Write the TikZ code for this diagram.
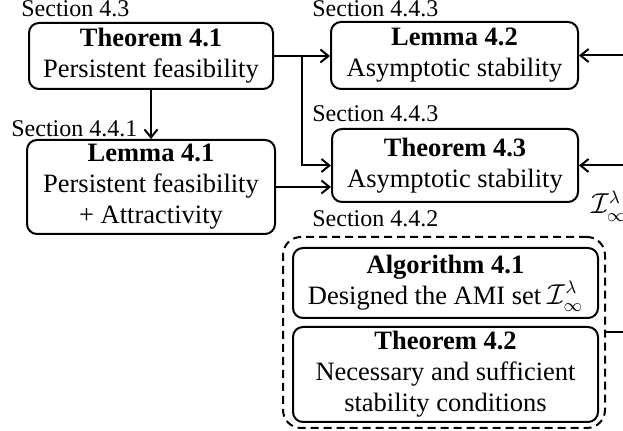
\documentclass[tikz,border=0pt]{standalone}
\usepackage{fontspec}
\setmainfont{Liberation Serif}
\usetikzlibrary{arrows.meta}
\begin{document}
\begin{tikzpicture}[x=0.5pt,y=-0.5pt,
  box/.style={draw, line width=1pt, rounded corners=5pt, align=center,
    inner sep=0pt, font=\fontsize{13.25}{15.5}\selectfont},
  sec/.style={anchor=base west, inner sep=0pt, font=\fontsize{12}{14}\selectfont},
  arr/.style={line width=1pt, -{Straight Barb[length=4pt,width=6.5pt]}},
  wire/.style={line width=1pt},
  group/.style={draw, line width=1pt, dash pattern=on 4pt off 2.5pt,
    rounded corners=9pt, inner sep=0pt}]
\useasboundingbox (0,0) rectangle (623,431);
\clip (0,0) rectangle (623,431);

% result boxes
\node[box, minimum width=122pt, minimum height=33pt] (T41) at (151,56)
  {\textbf{Theorem 4.1}\\Persistent feasibility};
\node[box, minimum width=124pt, minimum height=47pt] (L41) at (151,187)
  {\textbf{Lemma 4.1}\\Persistent feasibility\\+ Attractivity};
\node[box, minimum width=123.5pt, minimum height=33.5pt] (L42) at (454.5,55.5)
  {\textbf{Lemma 4.2}\\Asymptotic stability};
\node[box, minimum width=123pt, minimum height=36.5pt] (T43) at (455,165.5)
  {\textbf{Theorem 4.3}\\Asymptotic stability};

% grouped design results
\node[group, minimum width=161pt, minimum height=95.5pt] (G) at (444,332.5) {};
\node[box, minimum width=152.5pt, minimum height=35pt] (A41) at (445.5,283)
  {\textbf{Algorithm 4.1}\\Designed the AMI set $\mathcal{I}_\infty^\lambda$};
\node[box, minimum width=152.5pt, minimum height=47.5pt] (T42) at (445.5,374.5)
  {\textbf{Theorem 4.2}\\Necessary and sufficient\\stability conditions};

% section labels
\node[sec] (s1) at (21,17) {Section 4.3};
\node[sec] (s2) at (312,17) {Section 4.4.3};
\node[sec] (s3) at (11,137) {Section 4.4.1};
\node[sec] (s4) at (312,122) {Section 4.4.3};
\node[sec] (s5) at (312,227) {Section 4.4.2};
\node[anchor=base west, inner sep=0pt, font=\fontsize{13.25}{15.5}\selectfont]
  (Iset) at (591,214) {$\mathcal{I}_\infty^\lambda$};

% connectors
\coordinate (br) at (302,56);
\coordinate (r1) at (640,55.5);
\coordinate (r2) at (640,165.5);
\coordinate (r3) at (640,332.5);
\draw[arr] (T41.east) -- (T41.east -| L42.west);
\draw[arr] (br) |- (T43.west);
\draw[arr] (T41.south) -- (L41.north);
\draw[arr] (L41.east) -- (L41.east -| T43.west);
\draw[arr] (r1) -- (L42.east);
\draw[arr] (r2) -- (T43.east);
\draw[wire] (G.east) -- (r3);
\end{tikzpicture}
\end{document}
